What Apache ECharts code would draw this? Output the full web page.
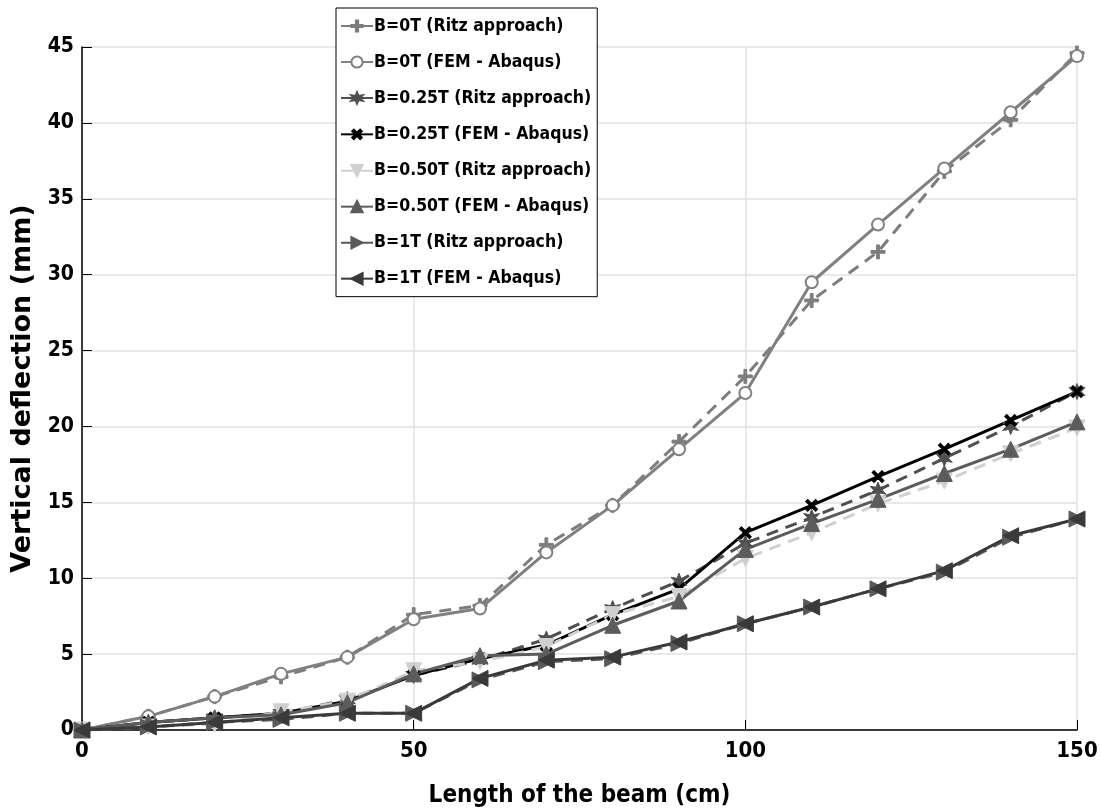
<!DOCTYPE html>
<html>
<head>
<meta charset="utf-8">
<script src="https://cdn.jsdelivr.net/npm/echarts@6/dist/echarts.min.js"></script>
<style>
  html, body { margin: 0; padding: 0; background: #fff; }
  #chart { width: 1101px; height: 811px; }
</style>
</head>
<body>
<div id="chart"></div>
<script>
const lengths = [0, 10, 20, 30, 40, 50, 60, 70, 80, 90, 100, 110, 120, 130, 140, 150]

const b0Ritz = [0, 0.9, 2.2, 3.5, 4.8, 7.6, 8.2, 12.2, 14.8, 19.0, 23.3, 28.3, 31.5, 36.8, 40.2, 44.6]
const b0Fem = [0, 0.9, 2.2, 3.7, 4.8, 7.3, 8.0, 11.7, 14.8, 18.5, 22.2, 29.5, 33.3, 37.0, 40.7, 44.4]
const b025Ritz = [0, 0.5, 0.8, 1.1, 2.0, 3.6, 4.6, 6.0, 8.0, 9.8, 12.3, 14.0, 15.8, 17.9, 20.0, 22.3]
const b025Fem = [0, 0.5, 0.8, 1.1, 1.9, 3.6, 4.7, 5.6, 7.6, 9.3, 13.0, 14.8, 16.7, 18.5, 20.4, 22.3]
const b050Ritz = [0, 0.2, 0.4, 1.2, 1.9, 3.9, 4.5, 5.5, 7.6, 8.8, 11.3, 13.0, 14.9, 16.4, 18.2, 19.9]
const b050Fem = [0, 0.5, 0.8, 1.0, 1.8, 3.7, 4.9, 5.0, 6.9, 8.5, 11.9, 13.6, 15.2, 16.9, 18.5, 20.3]
const b1Ritz = [0, 0.2, 0.5, 0.7, 1.1, 1.1, 3.3, 4.5, 4.7, 5.7, 7.0, 8.1, 9.3, 10.4, 12.7, 13.9]
const b1Fem = [0, 0.2, 0.5, 0.8, 1.1, 1.1, 3.4, 4.6, 4.8, 5.8, 7.0, 8.1, 9.3, 10.5, 12.8, 13.9]

const plusPath = 'path://M4,0h2v4h4v2h-4v4h-2v-4h-4v-2h4z'
const starPath = 'path://M5,0L6.3,3.2L10,2.5L7.6,5L10,7.5L6.3,6.8L5,10L3.7,6.8L0,7.5L2.4,5L0,2.5L3.7,3.2z'

const narrow = '"Liberation Sans Narrow", "Arial Narrow", "DejaVu Sans Condensed", "Roboto Condensed", sans-serif'

function pairs(ys) {
  return lengths.map((x, i) => [x, ys[i]])
}

function mkSeries(name, ys, color, dashed, symbol, size, rotate) {
  return {
    name,
    type: 'line',
    data: pairs(ys),
    symbol,
    symbolSize: size,
    symbolRotate: rotate || 0,
    showAllSymbol: true,
    lineStyle: { color, width: 3, type: dashed ? [12, 8] : 'solid' },
    itemStyle: { color, borderColor: color, borderWidth: 1 },
    emphasis: { disabled: true },
    animation: false,
  }
}

const series = [
  mkSeries('B=0T (Ritz approach)', b0Ritz, '#7d7d7d', true, plusPath, 14),
  mkSeries('B=0T (FEM - Abaqus)', b0Fem, '#808080', false, 'emptyCircle', 14),
  mkSeries('B=0.25T (Ritz approach)', b025Ritz, '#4f4f4f', true, starPath, 16),
  mkSeries('B=0.25T (FEM - Abaqus)', b025Fem, '#000000', false, plusPath, 14, 45),
  mkSeries('B=0.50T (Ritz approach)', b050Ritz, '#d0d0d0', true, 'triangle', 16, 180),
  mkSeries('B=0.50T (FEM - Abaqus)', b050Fem, '#5c5c5c', false, 'triangle', 16),
  mkSeries('B=1T (Ritz approach)', b1Ritz, '#5a5a5a', true, 'triangle', 16, -90),
  mkSeries('B=1T (FEM - Abaqus)', b1Fem, '#3a3a3a', false, 'triangle', 16, 90),
]
// solid circle markers look filled-ish in the original
series[1].itemStyle.borderWidth = 3
series[1].symbolSize = 12

const chart = echarts.init(document.getElementById('chart'), null, { renderer: 'canvas' })

chart.setOption({
  backgroundColor: '#ffffff',
  animation: false,
  grid: { left: 82, right: 24, top: 47, bottom: 81, containLabel: false, outerBoundsMode: 'none' },
  legend: {
    orient: 'vertical',
    left: 336,
    top: 8,
    padding: [9, 6, 9, 4],
    itemGap: 18,
    itemWidth: 32,
    itemHeight: 14,
    backgroundColor: '#ffffff',
    borderColor: '#000000',
    borderWidth: 1,
    selectedMode: false,
    textStyle: { fontFamily: narrow, fontWeight: 'bold', fontSize: 17.5, color: '#000', padding: [0, 0, 0, -4] },
    data: series.map(s => s.name),
  },
  xAxis: {
    type: 'value',
    min: 0,
    max: 150,
    interval: 50,
    name: 'Length of the beam (cm)',
    nameLocation: 'middle',
    nameGap: 54,
    nameTextStyle: { fontFamily: narrow, fontWeight: 'bold', fontSize: 24, color: '#000' },
    axisLine: { show: true, onZero: false, lineStyle: { color: '#000', width: 1.5 } },
    axisTick: { show: true, inside: true, length: 10, lineStyle: { color: '#000' } },
    axisLabel: { fontFamily: narrow, fontWeight: 'bold', fontSize: 22, color: '#000', margin: 10 },
    splitLine: { show: true, lineStyle: { color: '#e2e2e2', width: 1.5 } },
  },
  yAxis: {
    type: 'value',
    min: 0,
    max: 45,
    interval: 5,
    name: 'Vertical deflection (mm)',
    nameLocation: 'middle',
    nameGap: 44,
    nameTextStyle: { fontFamily: '"DejaVu Sans", Verdana, sans-serif', fontWeight: 'bold', fontSize: 27, color: '#000' },
    axisLine: { show: true, onZero: false, lineStyle: { color: '#000', width: 1.5 } },
    axisTick: { show: true, inside: true, length: 10, lineStyle: { color: '#000' } },
    axisLabel: { fontFamily: narrow, fontWeight: 'bold', fontSize: 21, color: '#000', margin: 8 },
    splitLine: { show: true, lineStyle: { color: '#e2e2e2', width: 1.5 } },
  },
  series,
})
</script>
</body>
</html>
